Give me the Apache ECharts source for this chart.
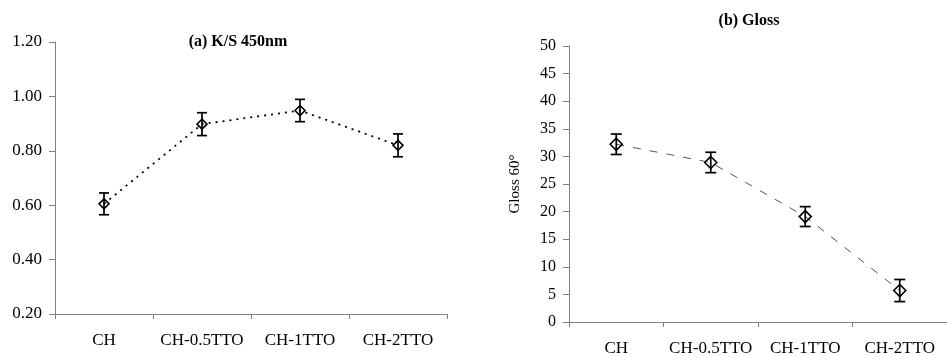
<!DOCTYPE html>
<html>
<head>
<meta charset="utf-8">
<script src="https://cdn.jsdelivr.net/npm/echarts@6/dist/echarts.min.js"></script>
<style>
  html, body { margin: 0; padding: 0; background: #fff; }
  #chart { width: 947px; height: 357px; }
</style>
</head>
<body>
<div id="chart"></div>
<script>
// Samples shared by both panels
const categories = ['CH', 'CH-0.5TTO', 'CH-1TTO', 'CH-2TTO'];

// (a) colour strength K/S at 450 nm, mean and standard deviation
const ksMean = [0.605, 0.898, 0.948, 0.820];
const ksErr  = [0.040, 0.042, 0.041, 0.042];

// (b) gloss at 60°, mean and standard deviation
const glossMean = [32.2, 28.9, 19.1, 5.7];
const glossErr  = [1.85, 1.85, 1.8, 2.0];

const FONT = '"Liberation Serif", "Times New Roman", serif';
const AXIS_GREY = '#808080';

function errorData(mean, err) {
  return mean.map((m, i) => [i, m - err[i], m + err[i]]);
}

function errorBarSeries(idx, mean, err, cap) {
  return {
    type: 'custom',
    xAxisIndex: idx,
    yAxisIndex: idx,
    z: 5,
    silent: true,
    data: errorData(mean, err),
    encode: { x: 0, y: [1, 2] },
    renderItem: function (params, api) {
      const x = api.value(0);
      const lo = api.coord([x, api.value(1)]);
      const hi = api.coord([x, api.value(2)]);
      const style = { stroke: '#000', lineWidth: 1.7 };
      return {
        type: 'group',
        children: [
          { type: 'line', shape: { x1: hi[0], y1: hi[1], x2: lo[0], y2: lo[1] }, style: style },
          { type: 'line', shape: { x1: hi[0] - cap, y1: hi[1], x2: hi[0] + cap, y2: hi[1] }, style: style },
          { type: 'line', shape: { x1: lo[0] - cap, y1: lo[1], x2: lo[0] + cap, y2: lo[1] }, style: style }
        ]
      };
    }
  };
}

function catAxis(idx) {
  return {
    type: 'category',
    gridIndex: idx,
    data: categories,
    boundaryGap: true,
    axisLine: { show: true, lineStyle: { color: AXIS_GREY, width: 1 } },
    axisTick: { show: true, length: 5, inside: false, lineStyle: { color: AXIS_GREY } },
    axisLabel: { color: '#000', fontFamily: FONT, fontSize: 17, margin: 18, interval: 0 },
    splitLine: { show: false }
  };
}

function valAxis(idx, min, max, interval, fontSize, fmt) {
  return {
    type: 'value',
    gridIndex: idx,
    min: min,
    max: max,
    interval: interval,
    axisLine: { show: true, lineStyle: { color: AXIS_GREY, width: 1 } },
    axisTick: { show: true, length: 6, inside: false, lineStyle: { color: AXIS_GREY } },
    axisLabel: { color: '#000', fontFamily: FONT, fontSize: fontSize, margin: 13, formatter: fmt },
    splitLine: { show: false }
  };
}

const chart = echarts.init(document.getElementById('chart'), null, { renderer: 'canvas' });

const yGloss = valAxis(1, 0, 50, 5, 16, v => String(v));
yGloss.name = 'Gloss 60\u00B0';
yGloss.nameLocation = 'middle';
yGloss.nameGap = 46;
yGloss.nameRotate = 90;
yGloss.nameTextStyle = { color: '#000', fontFamily: FONT, fontSize: 15 };

chart.setOption({
  backgroundColor: '#fff',
  animation: false,
  title: [
    {
      text: '(a) K/S 450nm',
      left: 238, top: 34, textAlign: 'center', padding: 0,
      textStyle: { fontFamily: FONT, fontSize: 16, fontWeight: 'bold', color: '#000' }
    },
    {
      text: '(b) Gloss',
      left: 749, top: 13, textAlign: 'center', padding: 0,
      textStyle: { fontFamily: FONT, fontSize: 16, fontWeight: 'bold', color: '#000' }
    }
  ],
  grid: [
    { left: 55, top: 42, right: 500, bottom: 43, containLabel: false },
    { left: 569, top: 46, right: -10, bottom: 31, containLabel: false }
  ],
  xAxis: [catAxis(0), catAxis(1)],
  yAxis: [
    valAxis(0, 0.2, 1.2, 0.2, 17, v => v.toFixed(2)),
    yGloss
  ],
  series: [
    {
      type: 'line',
      xAxisIndex: 0,
      yAxisIndex: 0,
      data: ksMean,
      symbol: 'diamond',
      symbolSize: 10,
      z: 3,
      lineStyle: { color: '#000', width: 1.8, type: [2, 5] },
      itemStyle: { color: 'rgba(0,0,0,0)', borderColor: '#000', borderWidth: 1.6 }
    },
    errorBarSeries(0, ksMean, ksErr, 5),
    {
      type: 'line',
      xAxisIndex: 1,
      yAxisIndex: 1,
      data: glossMean,
      symbol: 'diamond',
      symbolSize: 12,
      z: 3,
      lineStyle: { color: '#555', width: 1, type: [8, 9] },
      itemStyle: { color: 'rgba(0,0,0,0)', borderColor: '#000', borderWidth: 1.6 }
    },
    errorBarSeries(1, glossMean, glossErr, 5.5)
  ]
});
</script>
</body>
</html>
